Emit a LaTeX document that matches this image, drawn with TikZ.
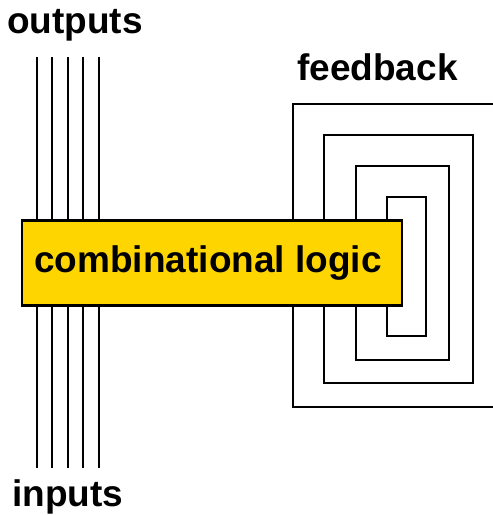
\documentclass[tikz,border=0pt]{standalone}
\usepackage{fontspec}
\setmainfont{Liberation Sans}
\definecolor{logicyellow}{RGB}{255,213,0}
\begin{document}
\begin{tikzpicture}[x=1pt, y=-1pt, every node/.style={font=\fontsize{37}{44}\selectfont\bfseries, inner sep=0pt}]
    \useasboundingbox (0,0) rectangle (493,515);
    \clip (0,0) rectangle (493,515);

    \node[anchor=base west] (outlabel) at (7,33) {outputs};
    \node[anchor=base west] (fblabel) at (297,80) {feedback};
    \node[anchor=base west] (inlabel) at (12,506) {inputs};

    \coordinate (out1) at (37,57);  \coordinate (in1) at (37,468);
    \coordinate (out2) at (52,57);  \coordinate (in2) at (52,468);
    \coordinate (out3) at (68,57);  \coordinate (in3) at (68,468);
    \coordinate (out4) at (83,57);  \coordinate (in4) at (83,468);
    \coordinate (out5) at (99,57);  \coordinate (in5) at (99,468);

    \draw[black, line width=2pt] (out1) -- (in1);
    \draw[black, line width=2pt] (out2) -- (in2);
    \draw[black, line width=2pt] (out3) -- (in3);
    \draw[black, line width=2pt] (out4) -- (in4);
    \draw[black, line width=2pt] (out5) -- (in5);

    \draw[black, line width=2pt] (293,104) rectangle (497,407);
    \draw[black, line width=2pt] (324,135) rectangle (473,383);
    \draw[black, line width=2pt] (356,166) rectangle (449,360);
    \draw[black, line width=2pt] (387,197) rectangle (426,336);

    \node[draw=black, fill=logicyellow, line width=2.7pt, minimum width=380pt, minimum height=85pt] (logic) at (212,263) {\raisebox{-2pt}{combinational logic}\kern8pt};
\end{tikzpicture}
\end{document}
